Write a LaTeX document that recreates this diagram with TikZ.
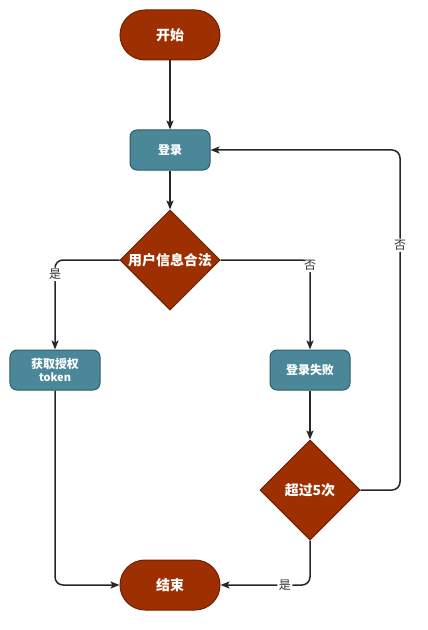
\documentclass[tikz,border=0pt]{standalone}
\usepackage{fontspec}
\setmainfont{Noto Sans CJK SC}
\usetikzlibrary{shapes.geometric,arrows.meta}
\definecolor{termred}{HTML}{9E2F00}
\definecolor{termedge}{HTML}{6E2000}
\definecolor{boxteal}{HTML}{4A8799}
\definecolor{boxedge}{HTML}{2E5C69}

\tikzset{
  terminal/.style={rectangle, rounded corners=25bp, minimum width=100bp, minimum height=50bp,
    fill=termred, draw=termedge, line width=1bp, text=white, font=\fontsize{14}{16}\selectfont\bfseries},
  process/.style={rectangle, rounded corners=7bp, minimum width=80bp, minimum height=40bp,
    fill=boxteal, draw=boxedge, line width=1bp, text=white, align=center, inner sep=1bp,
    font=\fontsize{12}{13}\selectfont\bfseries},
  decision/.style={diamond, aspect=1, minimum width=100bp, minimum height=100bp, inner sep=0pt,
    fill=termred, draw=termedge, line width=1bp, text=white, font=\fontsize{14}{16}\selectfont\bfseries},
  flow/.style={draw=black!85, line width=1.5bp, rounded corners=8bp, -{Stealth[length=9bp,width=7bp,inset=2bp]}},
  tag/.style={fill=white, inner sep=1.5bp, text=black!80, font=\fontsize{12}{14}\selectfont}
}

\begin{document}
\begin{tikzpicture}[x=1bp, y=-1bp]
  \useasboundingbox (0,0) rectangle (427,630);

  % nodes
  \node[terminal] (start) at (170,35) {开始};
  \node[process]  (login) at (170,150) {登录};
  \node[decision] (valid) at (170,260) {用户信息合法};
  \node[process, minimum width=90bp] (token) at (55,370) {获取授权\\{\fontsize{11}{12}\selectfont token}};
  \node[process]  (fail) at (310,370) {登录失败};
  \node[decision] (times) at (310,490) {超过5次};
  \node[terminal] (end) at (170,585) {结束};
  \coordinate (loop) at (400,150);

  % connectors
  \draw[flow] (start) -- (login);
  \draw[flow] (login) -- (valid);
  \draw[flow] (valid.west) -| node[tag, pos=0.58] {是} (token);
  \draw[flow] (valid.east) -| node[tag, pos=0.53] {否} (fail);
  \draw[flow] (fail) -- (times);
  \draw[flow] (times.east) -| node[tag, pos=0.86] {否} (loop) -- (login.east);
  \draw[flow] (times.south) |- node[tag, pos=0.64] {是} (end.east);
  \draw[flow] (token.south) |- (end.west);
\end{tikzpicture}
\end{document}
